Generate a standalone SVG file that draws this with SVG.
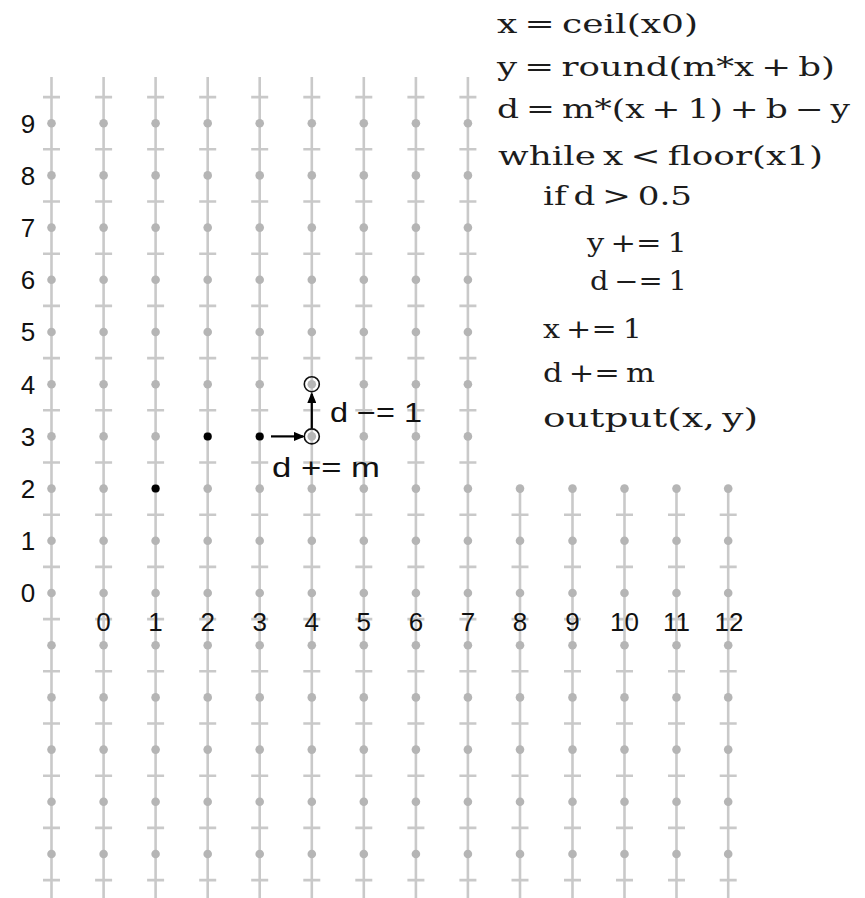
<svg xmlns="http://www.w3.org/2000/svg" xmlns:xlink="http://www.w3.org/1999/xlink" width="865" height="898" viewBox="0 0 865 898">
<style>
.gl{stroke:#c9c9c9;stroke-width:2.6;fill:none}
.gd{fill:#b5b5b5}
.ax{font-family:"Liberation Sans","DejaVu Sans",sans-serif;font-size:26px;fill:#111;text-anchor:middle}
.code{font-family:"DejaVu Serif","Liberation Serif",serif;font-size:26px;fill:#1c1c1c;word-spacing:-3px}
.lbl{font-family:"Liberation Sans","DejaVu Sans",sans-serif;font-size:27px;fill:#111}
.pt{fill:#000}
.ring{fill:none;stroke:#111;stroke-width:1.6}
.arr{stroke:#000;stroke-width:2.2;fill:none}
</style>
<defs>
<marker id="ah" markerWidth="11" markerHeight="9" refX="9" refY="4.5" orient="auto" markerUnits="userSpaceOnUse">
<path d="M0,0 L11,4.5 L0,9 z" fill="#000"/>
</marker>
<g id="ticks">
<path class="gl" d="M-8.5,514.7h17M-8.5,566.9h17M-8.5,619.1h17M-8.5,671.3h17M-8.5,723.5h17M-8.5,775.7h17M-8.5,827.9h17M-8.5,880.1h17"/>
<circle class="gd" cx="0" cy="488.6" r="4.3"/>
<circle class="gd" cx="0" cy="540.8" r="4.3"/>
<circle class="gd" cx="0" cy="593" r="4.3"/>
<circle class="gd" cx="0" cy="645.2" r="4.3"/>
<circle class="gd" cx="0" cy="697.4" r="4.3"/>
<circle class="gd" cx="0" cy="749.6" r="4.3"/>
<circle class="gd" cx="0" cy="801.8" r="4.3"/>
<circle class="gd" cx="0" cy="854" r="4.3"/>
</g>
<g id="colShort">
<line class="gl" x1="0" y1="488" x2="0" y2="898"/>
<use xlink:href="#ticks"/>
</g>
<g id="colFull">
<line class="gl" x1="0" y1="77" x2="0" y2="898"/>
<path class="gl" d="M-8.5,97.1h17M-8.5,149.3h17M-8.5,201.5h17M-8.5,253.7h17M-8.5,305.9h17M-8.5,358.1h17M-8.5,410.3h17M-8.5,462.5h17"/>
<circle class="gd" cx="0" cy="123.2" r="4.3"/>
<circle class="gd" cx="0" cy="175.4" r="4.3"/>
<circle class="gd" cx="0" cy="227.6" r="4.3"/>
<circle class="gd" cx="0" cy="279.8" r="4.3"/>
<circle class="gd" cx="0" cy="332" r="4.3"/>
<circle class="gd" cx="0" cy="384.2" r="4.3"/>
<circle class="gd" cx="0" cy="436.4" r="4.3"/>
<use xlink:href="#ticks"/>
</g>
</defs>
<rect width="865" height="898" fill="#fff"/>
<g id="grid">
<use xlink:href="#colFull" x="51.5"/>
<use xlink:href="#colFull" x="103.6"/>
<use xlink:href="#colFull" x="155.6"/>
<use xlink:href="#colFull" x="207.7"/>
<use xlink:href="#colFull" x="259.7"/>
<use xlink:href="#colFull" x="311.8"/>
<use xlink:href="#colFull" x="363.8"/>
<use xlink:href="#colFull" x="415.9"/>
<use xlink:href="#colFull" x="467.9"/>
<use xlink:href="#colShort" x="520"/>
<use xlink:href="#colShort" x="572.5"/>
<use xlink:href="#colShort" x="624.5"/>
<use xlink:href="#colShort" x="676.5"/>
<use xlink:href="#colShort" x="728.2"/>
</g>
<g id="y-axis-labels">
<text class="ax" x="28" y="132.6">9</text>
<text class="ax" x="28" y="184.8">8</text>
<text class="ax" x="28" y="237">7</text>
<text class="ax" x="28" y="289.2">6</text>
<text class="ax" x="28" y="341.4">5</text>
<text class="ax" x="28" y="393.6">4</text>
<text class="ax" x="28" y="445.8">3</text>
<text class="ax" x="28" y="498">2</text>
<text class="ax" x="28" y="550.2">1</text>
<text class="ax" x="28" y="602.4">0</text>
</g>
<g id="x-axis-labels">
<text class="ax" x="103.6" y="631">0</text>
<text class="ax" x="155.6" y="631">1</text>
<text class="ax" x="207.7" y="631">2</text>
<text class="ax" x="259.7" y="631">3</text>
<text class="ax" x="311.8" y="631">4</text>
<text class="ax" x="363.8" y="631">5</text>
<text class="ax" x="415.9" y="631">6</text>
<text class="ax" x="467.9" y="631">7</text>
<text class="ax" x="520" y="631">8</text>
<text class="ax" x="572.5" y="631">9</text>
<text class="ax" x="624.5" y="631">10</text>
<text class="ax" x="676.5" y="631">11</text>
<text class="ax" x="729" y="631">12</text>
</g>
<g id="pixels">
<circle class="pt" cx="155.6" cy="488.6" r="4"/>
<circle class="pt" cx="207.7" cy="436.4" r="4"/>
<circle class="pt" cx="259.7" cy="436.4" r="4"/>
</g>
<g id="candidate-east">
<circle class="ring" cx="311.8" cy="436.4" r="7.5"/>
</g>
<g id="candidate-northeast">
<circle class="ring" cx="311.8" cy="384.2" r="7.5"/>
</g>
<g id="connectors">
<line class="arr" x1="271" y1="436.4" x2="303" y2="436.4" marker-end="url(#ah)"/>
<line class="arr" x1="311.8" y1="428.5" x2="311.8" y2="394" marker-end="url(#ah)"/>
</g>
<g id="step-labels">
<text class="lbl" x="330" y="422" textLength="92" lengthAdjust="spacingAndGlyphs">d −= 1</text>
<text class="lbl" x="272" y="477" textLength="108" lengthAdjust="spacingAndGlyphs">d += m</text>
</g>
<g id="code">
<text class="code" x="497" y="33" textLength="201" lengthAdjust="spacingAndGlyphs">x = ceil(x0)</text>
<text class="code" x="497" y="76" textLength="338" lengthAdjust="spacingAndGlyphs">y = round(m*x + b)</text>
<text class="code" x="497" y="118" textLength="353" lengthAdjust="spacingAndGlyphs">d = m*(x + 1) + b − y</text>
<text class="code" x="498" y="165" textLength="325" lengthAdjust="spacingAndGlyphs">while x &lt; floor(x1)</text>
<text class="code" x="543" y="205" textLength="149" lengthAdjust="spacingAndGlyphs">if d &gt; 0.5</text>
<text class="code" x="587" y="252" textLength="100" lengthAdjust="spacingAndGlyphs">y += 1</text>
<text class="code" x="590" y="290" textLength="97" lengthAdjust="spacingAndGlyphs">d −= 1</text>
<text class="code" x="543" y="338" textLength="99" lengthAdjust="spacingAndGlyphs">x += 1</text>
<text class="code" x="543" y="382" textLength="112" lengthAdjust="spacingAndGlyphs">d += m</text>
<text class="code" x="543" y="427" textLength="215" lengthAdjust="spacingAndGlyphs">output(x, y)</text>
</g>
</svg>
